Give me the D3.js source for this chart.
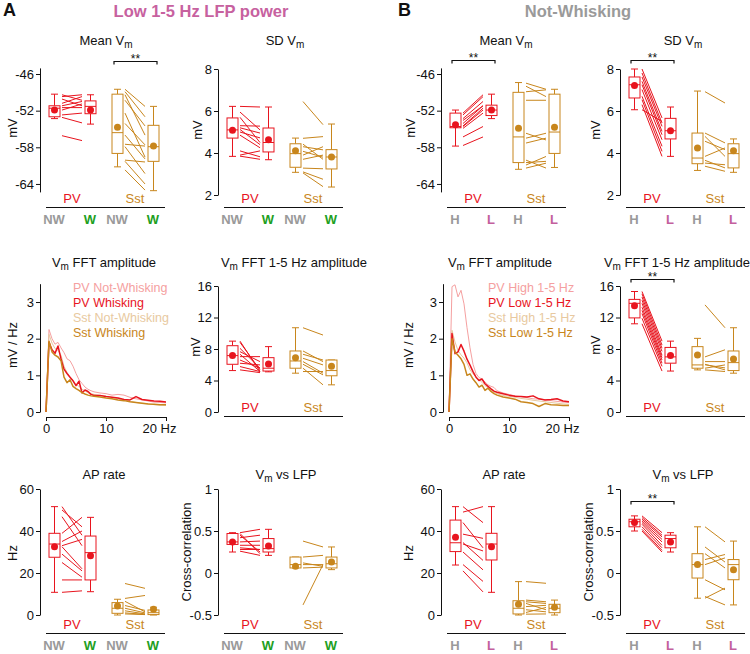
<!DOCTYPE html>
<html>
<head>
<meta charset="utf-8">
<script src="https://cdn.jsdelivr.net/npm/d3@7"></script>
<style>
body { margin: 0; background: #fff; }
svg { display: block; }
text { font-family: "Liberation Sans", Arial, sans-serif; }
</style>
</head>
<body>
<script>
// colours
var PV = "#e8141e", SST = "#c8861c", PV_LT = "#f5a0a0", SST_LT = "#e8c9a0";
var GREY = "#9a9a9a", GREEN = "#1ea01e", PINK = "#c3609d";

// x labels under the groups
var groups = ["PV", "Sst"];
var condA = ["NW", "W", "NW", "W"];
var condB = ["H", "L", "H", "L"];

// box stats per panel: [whisker lo, q1, median, q3, whisker hi, mean]
// order: PV cond1, PV cond2, Sst cond1, Sst cond2
var meanVmA = [[-53.3, -53.0, -51.6, -51.2, -49.3, -51.9], [-54.2, -52.5, -51.3, -50.4, -49.4, -51.9],
               [-61.2, -59.0, -55.6, -49.3, -48.5, -54.7], [-65.1, -60.3, -57.9, -54.4, -51.3, -57.8]];
var meanVmA_pv = [[-49.4, -50.3], [-49.7, -49.4], [-50.1, -51.2], [-50.8, -49.7], [-51.2, -50.5],
                  [-51.5, -51.5], [-51.9, -50.9], [-52.7, -52.4], [-53.1, -54.0], [-56.1, -56.9]];
var meanVmA_sst = [[-48.5, -51.3], [-48.9, -53.0], [-49.4, -56.0], [-50.3, -54.5], [-52.4, -59.6], [-54.1, -57.6],
                   [-56.0, -59.9], [-57.5, -57.8], [-57.9, -62.3], [-60.1, -60.4], [-60.3, -64.0], [-61.7, -65.0]];

var sdVmA = [[3.84, 4.71, 5.1, 5.67, 6.22, 5.08], [3.68, 4.05, 4.5, 5.19, 6.19, 4.63],
             [3.08, 3.32, 3.97, 4.44, 4.71, 4.11], [2.38, 3.24, 3.81, 4.16, 5.38, 3.81]];
var sdVmA_pv = [[6.22, 6.19], [5.95, 5.1], [5.7, 4.5], [5.3, 5.28], [5.2, 4.95], [5.12, 4.4],
                [5.0, 4.72], [4.85, 4.25], [4.1, 3.82], [3.9, 4.1], [3.85, 3.7]];
var sdVmA_sst = [[6.45, 5.35], [4.7, 4.78], [4.42, 3.7], [4.3, 4.15], [4.08, 3.8], [3.9, 4.3],
                 [3.7, 3.9], [3.28, 3.25], [3.1, 2.75], [3.05, 2.4]];

var meanVmB = [[-57.8, -54.8, -54.6, -52.4, -51.9, -54.3], [-53.3, -52.8, -51.9, -51.1, -49.3, -51.9],
               [-61.6, -60.5, -56.3, -49.0, -47.4, -54.9], [-61.3, -59.0, -55.5, -49.3, -48.5, -54.7]];
var meanVmB_pv = [[-52.4, -49.4], [-52.7, -49.7], [-53.3, -50.5], [-53.6, -51.2], [-54.1, -51.2],
                  [-54.5, -51.6], [-54.6, -51.9], [-54.9, -52.4], [-56.3, -54.6], [-57.7, -56.3]];
var meanVmB_sst = [[-47.5, -48.5], [-48.0, -49.7], [-48.9, -48.6], [-50.3, -50.3], [-55.7, -56.8], [-56.5, -55.7],
                   [-57.3, -56.5], [-60.1, -61.4], [-60.5, -60.3], [-60.9, -59.5], [-61.4, -60.6]];

var sdVmB = [[6.06, 6.62, 7.25, 7.62, 8.0, 7.21], [3.84, 4.67, 5.06, 5.65, 6.19, 5.06],
             [3.17, 3.49, 3.76, 4.95, 6.95, 4.24], [3.08, 3.29, 3.97, 4.44, 4.67, 4.11]];
var sdVmB_pv = [[8.0, 5.67], [7.81, 5.43], [7.62, 5.27], [7.41, 5.03], [7.25, 4.87], [7.02, 4.63],
                [6.7, 4.32], [6.54, 4.08], [6.3, 3.84], [6.06, 5.5]];
var sdVmB_sst = [[6.92, 6.38], [4.95, 4.48], [4.79, 3.84], [4.56, 4.16], [3.84, 4.24], [3.65, 3.29],
                 [3.52, 3.44], [3.37, 3.13]];

var fftLowA = [[5.26, 6.06, 7.16, 8.42, 9.0, 7.16], [5.1, 5.2, 5.56, 6.9, 8.3, 6.1],
               [4.93, 5.56, 6.48, 7.75, 10.7, 6.9], [3.45, 4.6, 5.26, 6.6, 6.6, 5.8]];
var fftLowA_pv = [[9.0, 5.14], [8.84, 5.35], [8.08, 5.56], [7.66, 6.4], [7.33, 5.14], [7.03, 7.03],
                  [6.6, 5.56], [6.19, 5.98], [5.77, 5.14], [5.35, 5.0]];
var fftLowA_sst = [[10.7, 9.77], [7.75, 6.4], [7.33, 6.6], [6.82, 5.98], [6.4, 4.93], [6.06, 4.72],
                   [5.56, 3.45], [5.14, 5.14]];

var fftLowB = [[11.2, 11.95, 13.8, 14.3, 15.3, 13.5], [5.2, 6.2, 7.0, 8.2, 9.0, 7.16],
               [5.35, 5.56, 5.98, 8.3, 9.35, 7.24], [4.93, 5.26, 6.27, 7.75, 10.7, 6.74]];
var fftLowB_pv = [[15.3, 9.0], [15.0, 8.5], [14.6, 8.1], [14.2, 7.7], [13.8, 7.2], [13.3, 6.9],
                  [12.9, 6.6], [12.5, 6.2], [11.9, 5.8], [11.2, 5.2]];
var fftLowB_sst = [[13.6, 10.7], [7.0, 7.9], [6.4, 6.4], [6.0, 5.6], [6.06, 5.35], [5.56, 5.98], [5.35, 5.14]];

var apA = [[10.8, 27.5, 33.8, 38.9, 51.6, 32.5], [11.1, 16.7, 29.7, 37.6, 46.5, 28.2],
           [0, 0.8, 3.2, 5.9, 7.5, 4.3], [0, 0.2, 1.1, 2.4, 3.7, 2.7]];
var apA_pv = [[51.6, 38], [50, 42], [46.8, 33], [38.9, 46.5], [35, 40], [33, 36], [32.5, 22],
              [29, 21], [25, 18], [16.7, 16.7], [10.8, 11.5]];
var apA_sst = [[15, 12.7], [7.9, 9.3], [6.5, 1.5], [4.5, 2.2], [3.2, 1.0], [2.0, 0.5], [1.0, 0.3], [0.5, 0.2]];

var apB = [[23.8, 30.2, 34.4, 45.2, 51.6, 37.0], [10.8, 26.2, 33.8, 38.9, 51.6, 32.5],
           [0, 0.5, 3.2, 6.8, 15.9, 5.1], [0, 1.1, 3.2, 5.1, 7.1, 3.7]];
var apB_pv = [[51.6, 44], [49, 51.6], [44, 32], [38.5, 36.5], [34.5, 26], [33.8, 30.5], [30, 21.5],
              [24, 16], [21, 11]];
var apB_sst = [[15.9, 15.1], [7.1, 6.3], [6.3, 5.5], [5.5, 2.5], [4.0, 4.6], [2.5, 1.5], [1.2, 3.6], [0.4, 0.5]];

var lfpA = [[0.25, 0.34, 0.37, 0.47, 0.48, 0.37], [0.21, 0.25, 0.29, 0.41, 0.52, 0.32],
            [0.06, 0.06, 0.1, 0.19, 0.19, 0.08], [0.04, 0.06, 0.11, 0.19, 0.31, 0.13]];
var lfpA_pv = [[0.48, 0.52], [0.47, 0.23], [0.45, 0.25], [0.42, 0.45], [0.37, 0.38], [0.33, 0.33],
               [0.3, 0.28], [0.28, 0.28], [0.26, 0.21]];
var lfpA_sst = [[0.38, 0.31], [0.19, 0.21], [0.12, 0.08], [0.1, 0.1], [0.06, 0.07], [-0.38, 0.1]];

var lfpB = [[0.5, 0.55, 0.61, 0.64, 0.68, 0.6], [0.25, 0.30, 0.41, 0.45, 0.48, 0.37],
            [-0.30, -0.06, 0.1, 0.23, 0.55, 0.1], [-0.38, -0.08, 0.1, 0.16, 0.38, 0.04]];
var lfpB_pv = [[0.68, 0.48], [0.66, 0.45], [0.64, 0.43], [0.62, 0.40], [0.6, 0.37], [0.58, 0.33],
               [0.55, 0.3], [0.52, 0.27], [0.5, 0.25]];
var lfpB_sst = [[0.55, 0.37], [0.31, 0.13], [0.23, 0.06], [0.16, 0.22], [0.1, 0.18], [-0.08, -0.2],
                [-0.28, -0.38], [-0.3, -0.18]];

// FFT spectra, mV/Hz at these frequencies
var fftHz = [0, 0.5, 1, 1.5, 2, 2.5, 3, 3.5, 4, 4.5, 5, 5.5, 6, 6.5, 7, 7.5, 8, 9, 10, 11, 12, 13, 14, 15, 16, 17, 18, 19, 20];
var fftA_pvNW = [0, 2.25, 2.0, 1.85, 1.9, 1.75, 1.62, 1.45, 1.4, 1.25, 1.05, 0.88, 0.78, 0.68, 0.62, 0.58, 0.55, 0.52, 0.5, 0.46, 0.48, 0.46, 0.4, 0.36, 0.33, 0.3, 0.27, 0.26, 0.25];
var fftA_pvW = [0, 1.9, 1.7, 1.6, 1.8, 1.45, 1.17, 1.05, 0.95, 0.85, 0.72, 0.84, 0.52, 0.6, 0.56, 0.48, 0.45, 0.45, 0.42, 0.4, 0.38, 0.34, 0.33, 0.42, 0.34, 0.32, 0.3, 0.29, 0.27];
var fftA_sstNW = [0, 2.12, 1.88, 1.73, 1.68, 1.55, 1.25, 1.08, 0.95, 0.87, 0.75, 0.7, 0.62, 0.58, 0.52, 0.5, 0.48, 0.45, 0.43, 0.4, 0.36, 0.33, 0.29, 0.26, 0.24, 0.23, 0.2, 0.19, 0.18];
var fftA_sstW = [0, 1.93, 1.64, 1.55, 1.5, 1.4, 0.95, 0.8, 0.88, 0.7, 0.64, 0.59, 0.53, 0.49, 0.46, 0.44, 0.43, 0.41, 0.38, 0.36, 0.33, 0.31, 0.28, 0.26, 0.24, 0.22, 0.21, 0.2, 0.2];
var fftB_pvH = [0, 3.42, 3.47, 3.14, 3.32, 2.95, 2.3, 1.75, 1.3, 1.05, 0.94, 0.9, 0.82, 0.74, 0.7, 0.67, 0.58, 0.52, 0.48, 0.44, 0.42, 0.39, 0.36, 0.35, 0.34, 0.31, 0.29, 0.27, 0.26];
var fftB_pvL = [0, 2.14, 1.59, 1.64, 1.84, 1.66, 1.44, 1.28, 1.1, 0.95, 0.86, 0.9, 0.77, 0.7, 0.63, 0.57, 0.54, 0.5, 0.46, 0.43, 0.42, 0.41, 0.44, 0.36, 0.33, 0.34, 0.36, 0.3, 0.28];
var fftB_sstH = [0, 2.23, 1.91, 1.68, 1.56, 1.47, 1.34, 1.15, 1.04, 0.96, 0.88, 0.81, 0.72, 0.66, 0.6, 0.54, 0.5, 0.45, 0.43, 0.4, 0.37, 0.35, 0.32, 0.3, 0.28, 0.26, 0.24, 0.22, 0.21];
var fftB_sstL = [0, 2.0, 1.64, 1.55, 1.45, 1.3, 1.0, 1.04, 0.9, 0.8, 0.68, 0.73, 0.59, 0.65, 0.56, 0.5, 0.46, 0.41, 0.38, 0.35, 0.28, 0.26, 0.23, 0.15, 0.23, 0.2, 0.19, 0.18, 0.18];

var svg = d3.select("body").append("svg").attr("width", 750).attr("height", 654);

var boxOff = [14, 50, 77, 113], boxW = 11;
var fmt = function(d) { return String(d); };

function titleText(x, y, str) {
	var t = svg.append("text").attr("x", x).attr("y", y).attr("text-anchor", "middle").attr("font-size", 13).attr("fill", "#111");
	str.split("_m").forEach(function(p, i) {
		if (i > 0) {
			t.append("tspan").attr("font-size", 10).attr("dy", 3).text("m");
			t.append("tspan").attr("dy", -3).text(p);
		} else {
			t.append("tspan").text(p);
		}
	});
}

function yLabel(x, y, str) {
	svg.append("text")
		.attr("transform", "translate(" + x + "," + y + ") rotate(-90)")
		.attr("text-anchor", "middle").attr("dy", "0.35em")
		.attr("font-size", 13).attr("fill", "#111")
		.text(str);
}

function styleAxis(a) {
	a.attr("font-family", null).attr("font-size", 13);
	a.selectAll("path, line").attr("stroke", "#111");
	a.selectAll("text").attr("fill", "#111");
}

function boxPanel(p) {
	var y = d3.scaleLinear().domain(p.domain).range(p.range);
	var xs = boxOff.map(function(o) { return p.ax + o; });
	var g = svg.append("g");

	var axis = g.append("g").attr("transform", "translate(" + p.ax + ",0)")
		.call(d3.axisLeft(y).tickValues(p.ticks).tickSize(4).tickSizeOuter(0).tickPadding(2).tickFormat(fmt));
	styleAxis(axis);

	// paired lines, one per cell
	[p.pv, p.sst].forEach(function(pairs, gi) {
		var col = gi === 0 ? PV : SST;
		g.selectAll(null).data(pairs).enter().append("line")
			.attr("x1", xs[gi * 2] + 8).attr("x2", xs[gi * 2 + 1] - 8)
			.attr("y1", function(d) { return y(d[0]); })
			.attr("y2", function(d) { return y(d[1]); })
			.attr("stroke", col).attr("stroke-width", 1);
	});

	// boxes
	p.box.forEach(function(b, i) {
		var col = i < 2 ? PV : SST;
		var cx = xs[i] + 0.5;
		var bg = g.append("g").attr("stroke", col).attr("stroke-width", 1).attr("fill", "none");
		bg.append("line").attr("x1", cx).attr("x2", cx).attr("y1", y(b[3])).attr("y2", y(b[4]));
		bg.append("line").attr("x1", cx).attr("x2", cx).attr("y1", y(b[1])).attr("y2", y(b[0]));
		bg.append("line").attr("x1", cx - 3.5).attr("x2", cx + 3.5).attr("y1", y(b[4])).attr("y2", y(b[4]));
		bg.append("line").attr("x1", cx - 3.5).attr("x2", cx + 3.5).attr("y1", y(b[0])).attr("y2", y(b[0]));
		bg.append("rect").attr("x", cx - boxW / 2).attr("width", boxW)
			.attr("y", y(b[3])).attr("height", Math.max(1, y(b[1]) - y(b[3]))).attr("fill", "#fff");
		bg.append("line").attr("x1", cx - boxW / 2).attr("x2", cx + boxW / 2).attr("y1", y(b[2])).attr("y2", y(b[2]));
		g.append("circle").attr("cx", cx).attr("cy", y(b[5])).attr("r", 3.5).attr("fill", col);
	});

	// significance bracket
	if (p.sig != null) {
		var x1 = xs[p.sig * 2] - 3, x2 = xs[p.sig * 2 + 1] + 4, sy = p.sigY + 0.5;
		g.append("path").attr("d", "M" + x1 + "," + (sy + 3) + "V" + sy + "H" + x2 + "V" + (sy + 3))
			.attr("fill", "none").attr("stroke", "#111").attr("stroke-width", 1.2);
		g.append("text").attr("x", (x1 + x2) / 2).attr("y", sy + 1).attr("text-anchor", "middle")
			.attr("font-size", 12).attr("fill", "#111").text("**");
	}

	// group labels and base line
	groups.forEach(function(name, gi) {
		g.append("text").attr("x", p.ax + (gi === 0 ? 32 : 95)).attr("y", p.lineY - 4.5)
			.attr("text-anchor", "middle").attr("font-size", 13)
			.attr("fill", gi === 0 ? PV : SST).text(name);
	});
	g.append("line").attr("x1", p.ax + 6).attr("x2", p.ax + 125).attr("y1", p.lineY + 0.5).attr("y2", p.lineY + 0.5)
		.attr("stroke", "#111").attr("stroke-width", 1);

	if (p.cond) {
		var cols = p.cond === condA ? [GREY, GREEN, GREY, GREEN] : [GREY, PINK, GREY, PINK];
		p.cond.forEach(function(c, i) {
			g.append("text").attr("x", xs[i]).attr("y", p.lineY + 16.5).attr("text-anchor", "middle")
				.attr("font-size", 13).attr("font-weight", "bold").attr("fill", cols[i]).text(c);
		});
	}

	titleText(p.titleX, p.titleY, p.title);
	yLabel(p.labelX, p.labelY, p.ylabel);
}

function fftPanel(p) {
	var x = d3.scaleLinear().domain([0, 20]).range([p.ax + 6, p.ax + 126]);
	var y = d3.scaleLinear().domain([0, 3.5]).range([412, 283.7]);
	var g = svg.append("g");

	var ya = g.append("g").attr("transform", "translate(" + p.ax + ",0)")
		.call(d3.axisLeft(y).tickValues([0, 1, 2, 3]).tickSize(4).tickSizeOuter(0).tickPadding(2).tickFormat(fmt));
	styleAxis(ya);
	var xa = g.append("g").attr("transform", "translate(0,417)")
		.call(d3.axisBottom(x).tickValues([0, 10, 20]).tickSize(4).tickSizeOuter(0).tickPadding(3)
			.tickFormat(function(d) { return d === 20 ? "20 Hz" : String(d); }));
	styleAxis(xa);
	xa.selectAll(".tick text").filter(function(d) { return d === 20; }).attr("dx", -7);

	var line = d3.line().x(function(d, i) { return x(fftHz[i]); }).y(function(d) { return y(d); });
	p.series.forEach(function(s) {
		g.append("path").datum(s.values).attr("d", line)
			.attr("fill", "none").attr("stroke", s.color).attr("stroke-width", s.width)
			.attr("stroke-linejoin", "round");
	});
	p.legend.forEach(function(s, i) {
		g.append("text").attr("x", p.legendX).attr("y", 291.5 + i * 15.2)
			.attr("font-size", 12.5).attr("fill", s.color).text(s.name);
	});

	titleText(p.titleX, 267, "V_m FFT amplitude");
	yLabel(p.labelX, 345, "mV / Hz");
}

// headings
svg.append("text").attr("x", 3).attr("y", 16).attr("font-size", 18).attr("font-weight", "bold").attr("fill", "#111").text("A");
svg.append("text").attr("x", 398).attr("y", 16).attr("font-size", 18).attr("font-weight", "bold").attr("fill", "#111").text("B");
svg.append("text").attr("x", 201).attr("y", 17).attr("text-anchor", "middle").attr("font-size", 16.5)
	.attr("font-weight", "bold").attr("fill", "#c7619f").text("Low 1-5 Hz LFP power");
svg.append("text").attr("x", 578).attr("y", 17).attr("text-anchor", "middle").attr("font-size", 16.5)
	.attr("font-weight", "bold").attr("fill", GREY).text("Not-Whisking");

var colAx = [40, 218, 441, 620];

// row 1
boxPanel({ ax: colAx[0], domain: [-65.3, -45], range: [191.9, 67.9], ticks: [-64, -58, -52, -46],
	box: meanVmA, pv: meanVmA_pv, sst: meanVmA_sst, sig: 1, sigY: 61, lineY: 207, cond: condA,
	title: "Mean V_m", titleX: 106, titleY: 45, ylabel: "mV", labelX: 12, labelY: 128 });
boxPanel({ ax: colAx[1], domain: [2, 8], range: [195, 69], ticks: [2, 4, 6, 8],
	box: sdVmA, pv: sdVmA_pv, sst: sdVmA_sst, sig: null, lineY: 207, cond: condA,
	title: "SD V_m", titleX: 285, titleY: 45, ylabel: "mV", labelX: 197, labelY: 130 });
boxPanel({ ax: colAx[2], domain: [-65.3, -45], range: [191.9, 67.9], ticks: [-64, -58, -52, -46],
	box: meanVmB, pv: meanVmB_pv, sst: meanVmB_sst, sig: 0, sigY: 60, lineY: 207, cond: condB,
	title: "Mean V_m", titleX: 506, titleY: 45, ylabel: "mV", labelX: 410, labelY: 128 });
boxPanel({ ax: colAx[3], domain: [2, 8], range: [195, 69], ticks: [2, 4, 6, 8],
	box: sdVmB, pv: sdVmB_pv, sst: sdVmB_sst, sig: 0, sigY: 60, lineY: 207, cond: condB,
	title: "SD V_m", titleX: 683, titleY: 45, ylabel: "mV", labelX: 595, labelY: 130 });

// row 2
fftPanel({ ax: colAx[0], titleX: 104, labelX: 12, legendX: 73,
	series: [{ values: fftA_pvNW, color: PV_LT, width: 1 }, { values: fftA_sstNW, color: SST_LT, width: 1 },
	         { values: fftA_pvW, color: PV, width: 1.5 }, { values: fftA_sstW, color: SST, width: 1.5 }],
	legend: [{ name: "PV Not-Whisking", color: PV_LT }, { name: "PV Whisking", color: PV },
	         { name: "Sst Not-Whisking", color: SST_LT }, { name: "Sst Whisking", color: SST }] });
boxPanel({ ax: colAx[1], domain: [0, 16], range: [412, 286], ticks: [0, 4, 8, 12, 16],
	box: fftLowA, pv: fftLowA_pv, sst: fftLowA_sst, sig: null, lineY: 416, cond: null,
	title: "V_m FFT 1-5 Hz amplitude", titleX: 294, titleY: 267, ylabel: "mV", labelX: 195, labelY: 347 });
fftPanel({ ax: colAx[2] + 2, titleX: 500, labelX: 408, legendX: 488,
	series: [{ values: fftB_pvH, color: PV_LT, width: 1 }, { values: fftB_sstH, color: SST_LT, width: 1 },
	         { values: fftB_pvL, color: PV, width: 1.5 }, { values: fftB_sstL, color: SST, width: 1.5 }],
	legend: [{ name: "PV High 1-5 Hz", color: PV_LT }, { name: "PV Low 1-5 Hz", color: PV },
	         { name: "Sst High 1-5 Hz", color: SST_LT }, { name: "Sst Low 1-5 Hz", color: SST }] });
boxPanel({ ax: colAx[3], domain: [0, 16], range: [412, 286], ticks: [0, 4, 8, 12, 16],
	box: fftLowB, pv: fftLowB_pv, sst: fftLowB_sst, sig: 0, sigY: 279, lineY: 416, cond: null,
	title: "V_m FFT 1-5 Hz amplitude", titleX: 677, titleY: 267, ylabel: "mV", labelX: 595, labelY: 345 });

// row 3
boxPanel({ ax: colAx[0], domain: [0, 60], range: [615, 489], ticks: [0, 20, 40, 60],
	box: apA, pv: apA_pv, sst: apA_sst, sig: null, lineY: 633, cond: condA,
	title: "AP rate", titleX: 104, titleY: 479, ylabel: "Hz", labelX: 12, labelY: 553 });
boxPanel({ ax: colAx[1], domain: [-0.5, 1], range: [615, 489], ticks: [-0.5, 0, 0.5, 1],
	box: lfpA, pv: lfpA_pv, sst: lfpA_sst, sig: null, lineY: 633, cond: condA,
	title: "V_m vs LFP", titleX: 286, titleY: 479, ylabel: "Cross-correlation", labelX: 186, labelY: 552 });
boxPanel({ ax: colAx[2], domain: [0, 60], range: [615, 489], ticks: [0, 20, 40, 60],
	box: apB, pv: apB_pv, sst: apB_sst, sig: null, lineY: 633, cond: condB,
	title: "AP rate", titleX: 504, titleY: 479, ylabel: "Hz", labelX: 408, labelY: 553 });
boxPanel({ ax: colAx[3], domain: [-0.5, 1], range: [615, 489], ticks: [-0.5, 0, 0.5, 1],
	box: lfpB, pv: lfpB_pv, sst: lfpB_sst, sig: 0, sigY: 501, lineY: 633, cond: condB,
	title: "V_m vs LFP", titleX: 683, titleY: 479, ylabel: "Cross-correlation", labelX: 588, labelY: 552 });
</script>
</body>
</html>
